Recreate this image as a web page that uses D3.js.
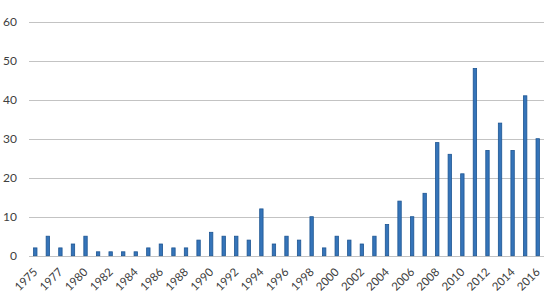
<!DOCTYPE html>
<html><head><meta charset="utf-8">
<script src="https://cdn.jsdelivr.net/npm/d3@7"></script>
<style>body{margin:0;background:#fff;}text{font-family:Lato,"Open Sans",sans-serif;}</style>
</head><body>
<svg id="c" width="557" height="299"></svg>
<script>
const years = ["1975","1976","1977","1979","1980","1981","1982","1983","1984","1985","1986","1987","1988","1989","1990","1991","1992","1993","1994","1995","1996","1997","1998","1999","2000","2001","2002","2003","2004","2005","2006","2007","2008","2009","2010","2011","2012","2013","2014","2015","2016"];
const counts = [2,5,2,3,5,1,1,1,1,2,3,2,2,4,6,5,5,4,12,3,5,4,10,2,5,4,3,5,8,14,10,16,29,26,21,48,27,34,27,41,30];
const yTicks = [0,10,20,30,40,50,60];

(function(){
const svg = d3.select("#c");
const mLeft = 29, mRight = 544, mTop = 21.7, mBottom = 255.7;
const x = d3.scaleBand().domain(years).range([mLeft, mRight]).paddingInner(0.73).paddingOuter(0.365);
const y = d3.scaleLinear().domain([0, 60]).range([mBottom, mTop]);

svg.append("g").selectAll("line").data(yTicks).join("line")
  .attr("x1", mLeft).attr("x2", mRight)
  .attr("y1", d => Math.round(y(d)) + 0.5).attr("y2", d => Math.round(y(d)) + 0.5)
  .attr("stroke", "#c3c3c3").attr("stroke-width", 1);

const yAxis = d3.axisLeft(y).tickValues(yTicks).tickSize(0).tickPadding(0);
const gy = svg.append("g").attr("transform", `translate(17,0)`).call(yAxis);
gy.select(".domain").remove();
gy.selectAll("text").attr("font-size", 12).attr("fill", "#404040").attr("font-family", "Lato, sans-serif");

svg.append("g").selectAll("rect").data(counts).join("rect")
  .attr("x", (d, i) => x(years[i]))
  .attr("width", x.bandwidth())
  .attr("y", d => y(d))
  .attr("height", d => y(0) - y(d))
  .attr("fill", "#3574b9").attr("stroke", "#1d5592").attr("stroke-width", 0.8);

const labelYears = years.filter((d, i) => i % 2 === 0);
const xAxis = d3.axisBottom(x).tickValues(labelYears).tickSize(0).tickPadding(0);
const gx = svg.append("g").attr("transform", `translate(0,${mBottom})`).call(xAxis);
gx.select(".domain").remove();
gx.selectAll("text")
  .attr("font-size", 11.5).attr("fill", "#404040").attr("font-family", "Lato, sans-serif")
  .attr("text-anchor", "end").attr("dy", null).attr("y", 0)
  .attr("transform", "translate(3,17) rotate(-45)");
})();
</script>
</body></html>
